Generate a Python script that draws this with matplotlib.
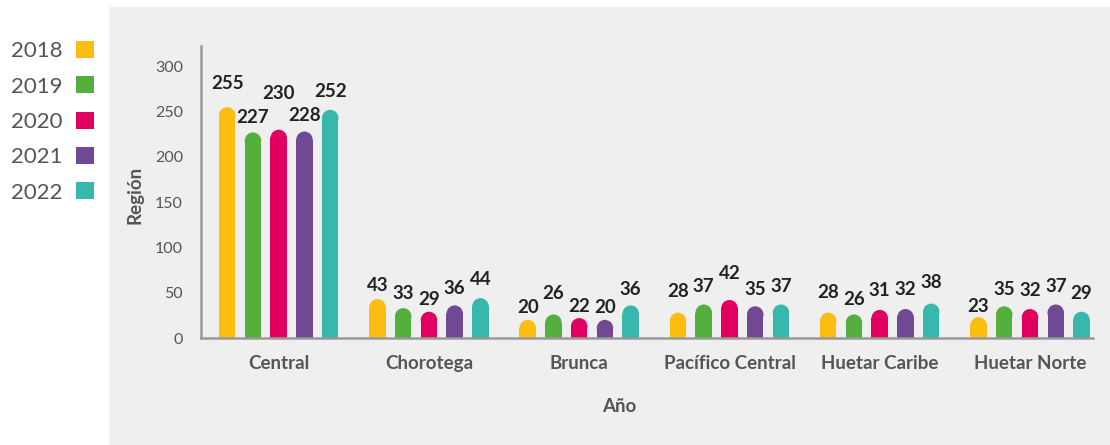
import matplotlib
matplotlib.use("Agg")
import matplotlib.pyplot as plt
from matplotlib.patches import Rectangle, Ellipse, Patch
import numpy as np

plt.rcParams['font.family'] = ['Lato', 'DejaVu Sans']

# ---- data ----
regions = ["Central", "Chorotega", "Brunca", "Pacífico Central", "Huetar Caribe", "Huetar Norte"]
years = ["2018", "2019", "2020", "2021", "2022"]
v2018 = [255, 43, 20, 28, 28, 23]
v2019 = [227, 33, 26, 37, 26, 35]
v2020 = [230, 29, 22, 42, 31, 32]
v2021 = [228, 36, 20, 35, 32, 37]
v2022 = [252, 44, 36, 37, 38, 29]
yticks = [0, 50, 100, 150, 200, 250, 300]

# label offsets above bar tops (px), per year x region (style only)
label_off = [
    [24, 14, 12, 21, 20, 11],
    [15, 15, 21, 18, 15, 17],
    [36, 12, 12, 26, 19, 19],
    [16, 17, 12, 17, 20, 18],
    [18, 19, 16, 18, 21, 18],
]

colors = ["#FCBD12", "#55AF3C", "#E1005F", "#704894", "#38B7AD"]
series = [v2018, v2019, v2020, v2021, v2022]

W, H, DPI = 1110, 445, 100
fig = plt.figure(figsize=(W / DPI, H / DPI), dpi=DPI, facecolor="white")

# gray panel
panel = Rectangle((109 / W, 0), 1 - 109 / W, (H - 7) / H,
                  transform=fig.transFigure, facecolor="#EFEFEF",
                  edgecolor="none", zorder=-10)
fig.patches.append(panel)

ax_l, ax_r, ax_t, ax_b = 201, 1093, 46, 338
ax = fig.add_axes([ax_l / W, 1 - ax_b / H, (ax_r - ax_l) / W, (ax_b - ax_t) / H])
ax.set_facecolor("none")
ax.set_zorder(1)

px_per_unit_y = 0.9056
ymax = (ax_b - ax_t) / px_per_unit_y
ax.set_ylim(0, ymax)
group_px = 150.26
ax.set_xlim(-77.7 / group_px, 5 + 63 / group_px)

x = np.arange(len(regions))
step = 25.75 / group_px
bw = 16.5 / group_px
r_y = (16.5 / 2) / px_per_unit_y

for i, (vals, c) in enumerate(zip(series, colors)):
    xs = x + (i - 2) * step
    for j, (xx, v) in enumerate(zip(xs, vals)):
        ax.add_patch(Rectangle((xx - bw / 2, 0), bw, v - r_y, facecolor=c,
                               edgecolor="none", zorder=2))
        ax.add_patch(Ellipse((xx, v - r_y), bw, 2 * r_y, facecolor=c,
                             edgecolor="none", zorder=2))
        ax.annotate(str(v), (xx, v), xytext=(0, label_off[i][j] * 72 / DPI),
                    textcoords="offset points", ha="center", va="center",
                    fontsize=13.5, fontweight="bold", color="#222222", zorder=3)

ax.set_xticks(x)
ax.set_xticklabels(regions, fontsize=13.5, fontweight="bold", color="#555555")
ax.set_yticks(yticks)
ax.set_yticklabels([str(t) for t in yticks], fontsize=11.5, color="#555555")
ax.tick_params(axis="y", length=0, pad=13)
ax.tick_params(axis="x", length=0, pad=12)

for s in ["top", "right"]:
    ax.spines[s].set_visible(False)
for s in ["left", "bottom"]:
    ax.spines[s].set_color("#999999")
    ax.spines[s].set_linewidth(1.8)

ax.set_xlabel("Año", fontsize=13.5, fontweight="bold", color="#555555")
ax.xaxis.set_label_coords((619 - ax_l) / (ax_r - ax_l), -(407 - ax_b) / (ax_b - ax_t))
ax.xaxis.label.set_va("center")
ax.set_ylabel("Región", fontsize=13.5, fontweight="bold", color="#555555")
ax.yaxis.set_label_coords(-(ax_l - 135) / (ax_r - ax_l), (ax_b - 195) / (ax_b - ax_t))
ax.yaxis.label.set_va("center")

handles = [Patch(facecolor=c, edgecolor="none") for c in colors]
fig.legend(handles, years, loc="upper right", bbox_to_anchor=(94 / W, 1 - 41 / H),
           frameon=False, markerfirst=False, fontsize=16, labelcolor="#555555",
           handlelength=0.8, handleheight=0.8, handletextpad=0.6,
           labelspacing=0.68, borderpad=0, borderaxespad=0)

fig.savefig("out.png", dpi=DPI, facecolor="white")
